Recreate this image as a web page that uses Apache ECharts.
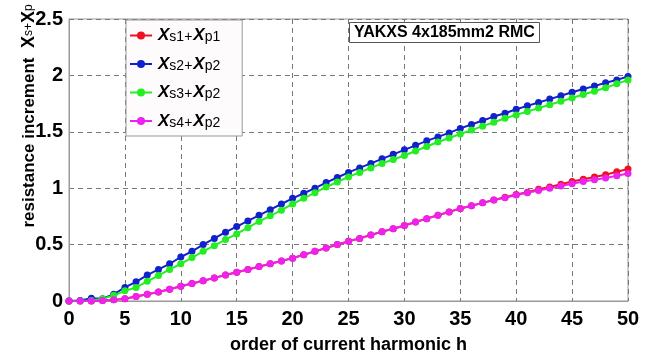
<!DOCTYPE html>
<html>
<head>
<meta charset="utf-8">
<script src="https://cdn.jsdelivr.net/npm/echarts@6/dist/echarts.min.js"></script>
<style>html,body{margin:0;padding:0;background:#fff;}#c{width:661px;height:359px;}</style>
</head>
<body>
<div id="c"></div>
<script>
const harmonics = Array.from({length: 51}, (_, i) => i);
const seriesNames = ['Xs1+Xp1', 'Xs2+Xp2', 'Xs3+Xp2', 'Xs4+Xp2'];
const legendRich = ['{b|X}{s|s1+}{b|X}{s|p1}', '{b|X}{s|s2+}{b|X}{s|p2}', '{b|X}{s|s3+}{b|X}{s|p2}', '{b|X}{s|s4+}{b|X}{s|p2}'];
const xTicks = [0, 5, 10, 15, 20, 25, 30, 35, 40, 45, 50];
const yTicks = [0, 0.5, 1, 1.5, 2, 2.5];

const s1p1 = [0,0,0,0.005,0.01,0.02,0.04,0.06,0.08,0.105,0.13,0.155,0.18,0.205,0.23,0.255,0.28,0.305,0.33,0.355,0.38,0.41,0.44,0.47,0.50,0.53,0.555,0.585,0.615,0.64,0.67,0.70,0.73,0.76,0.79,0.82,0.845,0.87,0.895,0.92,0.945,0.965,0.99,1.01,1.035,1.06,1.08,1.10,1.12,1.145,1.17];
const s2p2 = [0,0.005,0.025,0.02,0.06,0.12,0.17,0.23,0.28,0.33,0.39,0.44,0.50,0.555,0.61,0.66,0.71,0.76,0.81,0.86,0.91,0.955,1.0,1.05,1.095,1.14,1.18,1.22,1.26,1.30,1.34,1.38,1.42,1.455,1.49,1.53,1.565,1.60,1.635,1.665,1.70,1.73,1.76,1.79,1.82,1.85,1.88,1.905,1.935,1.96,1.99];
const s3p2 = [0,0,0.005,0.02,0.05,0.09,0.12,0.175,0.225,0.28,0.33,0.385,0.44,0.49,0.545,0.595,0.65,0.705,0.755,0.805,0.86,0.91,0.96,1.01,1.055,1.10,1.14,1.18,1.22,1.255,1.29,1.33,1.37,1.41,1.445,1.48,1.515,1.55,1.585,1.62,1.65,1.68,1.71,1.74,1.77,1.80,1.83,1.86,1.89,1.925,1.96];
const s4p2 = [0,0,0,0.005,0.01,0.02,0.04,0.06,0.08,0.105,0.13,0.155,0.18,0.205,0.23,0.255,0.28,0.305,0.33,0.355,0.38,0.41,0.44,0.47,0.50,0.53,0.555,0.585,0.615,0.64,0.67,0.70,0.73,0.76,0.79,0.82,0.845,0.87,0.895,0.915,0.94,0.96,0.98,1.0,1.02,1.04,1.06,1.075,1.09,1.11,1.13];

const colors = ['#ee1122', '#1122cc', '#22ee22', '#ee22ee'];
const values = [s1p1, s2p2, s3p2, s4p2];

const chart = echarts.init(document.getElementById('c'));
const legendMap = {};
seriesNames.forEach((n, i) => legendMap[n] = legendRich[i]);

chart.setOption({
  backgroundColor: '#fff',
  animation: false,
  title: {
    text: 'YAKXS 4x185mm2 RMC',
    left: 349, top: 22,
    padding: [3, 5, 2, 5],
    borderWidth: 1, borderColor: '#555', backgroundColor: '#fff',
    textStyle: {fontFamily: 'Arial, Liberation Sans', fontSize: 16, fontWeight: 'bold', color: '#000'}
  },
  grid: {left: 69, right: 33, top: 19, bottom: 55, show: true, borderColor: '#999', borderWidth: 1},
  legend: {
    orient: 'vertical', left: 126, top: 20,
    padding: [7, 22, 6, 3],
    itemGap: 11, itemWidth: 22, itemHeight: 10,
    backgroundColor: '#fdfbfb', borderColor: '#999', borderWidth: 1,
    data: seriesNames,
    formatter: n => legendMap[n],
    textStyle: {
      color: '#000',
      rich: {
        b: {fontFamily: 'Arial, Liberation Sans', fontWeight: 'bold', fontStyle: 'italic', fontSize: 17, lineHeight: 18, color: '#000', padding: [0, 0, 0, 1]},
        s: {fontFamily: 'Arial, Liberation Sans', fontSize: 14, lineHeight: 18, color: '#000', verticalAlign: 'bottom'}
      }
    }
  },
  xAxis: {
    type: 'value', min: xTicks[0], max: xTicks[xTicks.length - 1], interval: 5,
    name: 'order of current harmonic h', nameLocation: 'middle', nameGap: 35,
    nameTextStyle: {fontFamily: 'Arial, Liberation Sans', fontWeight: 'bold', fontSize: 18, color: '#000'},
    axisLine: {lineStyle: {color: '#999'}}, axisTick: {show: false},
    axisLabel: {fontFamily: 'Arial, Liberation Sans', fontWeight: 'bold', fontSize: 20, color: '#000', margin: 8},
    splitLine: {show: true, lineStyle: {type: [5, 4], color: '#777', width: 1}}
  },
  yAxis: {
    type: 'value', min: yTicks[0], max: yTicks[yTicks.length - 1], interval: 0.5,
    axisLine: {show: true, lineStyle: {color: '#999'}}, axisTick: {show: false},
    axisLabel: {fontFamily: 'Arial, Liberation Sans', fontWeight: 'bold', fontSize: 20, color: '#000', margin: 6},
    splitLine: {show: true, lineStyle: {type: [5, 4], color: '#777', width: 1}}
  },
  graphic: [{
    type: 'text', x: 29, y: 116, rotation: Math.PI / 2,
    style: {
      text: 'resistance increment  {b|X}{s|s+}{b|X}{s|p}',
      font: 'bold 17px Arial, Liberation Sans',
      fill: '#000', align: 'center', verticalAlign: 'middle',
      rich: {
        b: {font: 'bold 18px Arial, Liberation Sans', fill: '#000'},
        s: {font: '12px Arial, Liberation Sans', fill: '#000'}
      }
    }
  }],
  series: seriesNames.map((n, i) => ({
    name: n, type: 'line',
    data: harmonics.map((h, j) => [h, values[i][j]]),
    symbol: 'circle', symbolSize: 7, showSymbol: true,
    itemStyle: {color: colors[i]},
    lineStyle: {color: colors[i], width: 2}
  }))
});
</script>
</body>
</html>
